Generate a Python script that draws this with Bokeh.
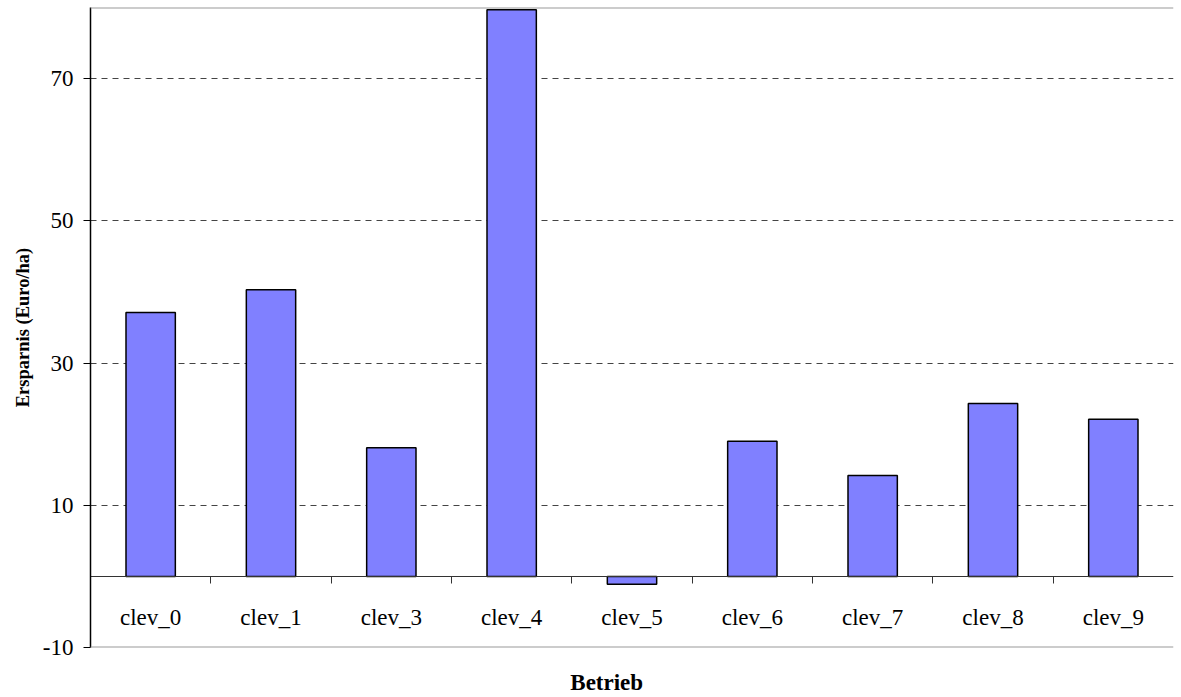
from bokeh.plotting import figure
from bokeh.models import (ColumnDataSource, Range1d, LinearAxis, FixedTicker, Span)
from bokeh.embed import file_html
from bokeh.resources import INLINE

categories = ["clev_0", "clev_1", "clev_3", "clev_4", "clev_5", "clev_6", "clev_7", "clev_8", "clev_9"]
savings = [37.1, 40.3, 18.1, 79.7, -1.1, 19.0, 14.2, 24.3, 22.1]
y_ticks = [-10, 10, 30, 50, 70]
grid_ticks = [10, 30, 50, 70]
y_title = "Ersparnis (Euro/ha)"
x_title = "Betrieb"

FONT = "Liberation Serif"
n = len(categories)
centers = [i + 0.5 for i in range(n)]
x_title_pos = 4.29

p = figure(width=1181, height=697, output_backend="svg", toolbar_location=None,
           x_range=Range1d(0, n), y_range=Range1d(-10, 80),
           x_axis_location=None, y_axis_location=None,
           min_border_left=90, min_border_right=8, min_border_top=7, min_border_bottom=49)
p.outline_line_color = None
p.background_fill_color = "white"
p.border_fill_color = "white"

src = ColumnDataSource(dict(x=centers, top=savings, name=categories))
p.vbar(x="x", top="top", bottom=0, width=0.41, source=src,
       fill_color="#8080FF", line_color="black", line_width=1.5)

# frame lines top/bottom
for yv in (80, -10):
    p.add_layout(Span(location=yv, dimension="width", line_color="#999999", line_width=2))

# y axis
yax = LinearAxis(ticker=FixedTicker(ticks=y_ticks), axis_label=y_title,
                 major_label_overrides={t: str(t) for t in y_ticks})
yax.axis_line_color = "black"
yax.axis_line_width = 1.5
yax.major_tick_out = 7
yax.major_tick_in = 0
yax.minor_tick_out = 0
yax.minor_tick_in = 0
yax.major_tick_line_color = "black"
yax.major_label_standoff = 10
yax.major_label_text_font = FONT
yax.major_label_text_font_size = "23px"
yax.major_label_text_color = "black"
yax.axis_label_text_font = FONT
yax.axis_label_text_font_style = "bold"
yax.axis_label_text_font_size = "18.5px"
yax.axis_label_text_color = "black"
yax.axis_label_standoff = 7
p.add_layout(yax, "left")

# grid
p.ygrid.ticker = FixedTicker(ticks=grid_ticks)
p.ygrid.grid_line_color = "#444444"
p.ygrid.grid_line_dash = "6 5"
p.ygrid.grid_line_width = 1
p.xgrid.grid_line_color = None

# boundary ticks on zero line
bax = LinearAxis(ticker=FixedTicker(ticks=list(range(1, n))), fixed_location=0)
bax.axis_line_color = "#333333"
bax.axis_line_width = 1
bax.major_tick_out = 7
bax.major_tick_in = 0
bax.minor_tick_out = 0
bax.minor_tick_in = 0
bax.major_tick_line_color = "#333333"
bax.major_label_text_font_size = "0px"
bax.major_label_text_color = None
p.add_layout(bax, "below")

# category labels
cax = LinearAxis(ticker=FixedTicker(ticks=centers), fixed_location=0,
                 major_label_overrides={c: name for c, name in zip(centers, categories)})
cax.axis_line_color = None
cax.major_tick_line_color = None
cax.minor_tick_line_color = None
cax.major_label_standoff = 23
cax.major_label_text_font = FONT
cax.major_label_text_font_size = "23px"
cax.major_label_text_color = "black"
p.add_layout(cax, "below")

# x axis title as a tick label of an invisible axis below the frame
tax = LinearAxis(ticker=FixedTicker(ticks=[x_title_pos]),
                 major_label_overrides={x_title_pos: x_title})
tax.axis_line_color = None
tax.major_tick_line_color = None
tax.minor_tick_line_color = None
tax.major_tick_out = 0
tax.major_label_standoff = 22
tax.major_label_text_font = FONT
tax.major_label_text_font_size = "23px"
tax.major_label_text_font_style = "bold"
tax.major_label_text_color = "black"
p.add_layout(tax, "below")

open("out.html", "w").write(file_html(p, INLINE))
